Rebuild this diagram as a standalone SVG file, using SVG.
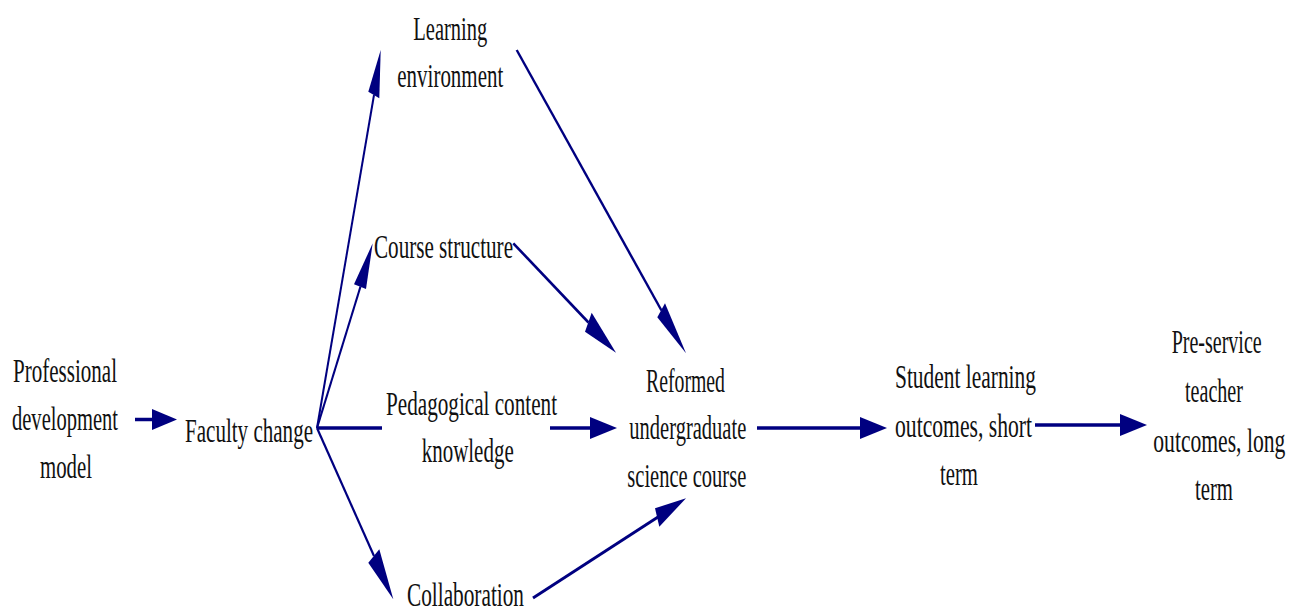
<svg xmlns="http://www.w3.org/2000/svg" width="1291" height="612" viewBox="0 0 1291 612">
<style>
  text { font-family: "Liberation Serif", "Times New Roman", serif; font-size: 33px; fill: #111; }
  .ln { stroke: #000080; fill: none; stroke-linecap: butt; }
  .hd { fill: #000080; stroke: none; }
</style>
<rect width="1291" height="612" fill="#ffffff"/>
<g id="connectors">
  <!-- PD -> Faculty change -->
  <line class="ln" x1="135" y1="419.5" x2="153" y2="419.5" stroke-width="3.5"/>
  <polygon class="hd" points="152,409 177,419.5 152,430"/>
  <!-- Faculty -> Learning environment -->
  <line class="ln" x1="317" y1="428" x2="374" y2="95" stroke-width="2"/>
  <polygon class="hd" points="380.7,50 368.3,91.7 379.3,98.3"/>
  <!-- Faculty -> Course structure -->
  <line class="ln" x1="317" y1="428" x2="360.5" y2="286.5" stroke-width="2.1"/>
  <polygon class="hd" points="372.7,243.3 354,284.3 366,289"/>
  <!-- Faculty -> Pedagogical content knowledge -->
  <line class="ln" x1="317" y1="428" x2="382" y2="428" stroke-width="3.5"/>
  <!-- Faculty -> Collaboration -->
  <line class="ln" x1="317" y1="428" x2="374" y2="556" stroke-width="2.2"/>
  <polygon class="hd" points="393.3,599.3 368.3,562.7 379.3,549.3"/>
  <!-- Learning environment -> Reformed -->
  <line class="ln" x1="516.7" y1="50" x2="661.5" y2="310.5" stroke-width="2.4"/>
  <polygon class="hd" points="686,353.3 657.3,317.3 665,303.3"/>
  <!-- Course structure -> Reformed -->
  <line class="ln" x1="513.3" y1="243.3" x2="588.5" y2="322.5" stroke-width="2.6"/>
  <polygon class="hd" points="616,352.7 585,331.7 591.7,312.7"/>
  <!-- Pedagogical -> Reformed -->
  <line class="ln" x1="550" y1="428" x2="591" y2="428" stroke-width="3.5"/>
  <polygon class="hd" points="590,417 617,428 590,439"/>
  <!-- Collaboration -> Reformed -->
  <line class="ln" x1="533" y1="598" x2="658" y2="517" stroke-width="2.9"/>
  <polygon class="hd" points="686,498.3 655,508.3 659.3,526.7"/>
  <!-- Reformed -> Student -->
  <line class="ln" x1="757" y1="428" x2="861" y2="428" stroke-width="3.5"/>
  <polygon class="hd" points="860,417 887,428 860,439"/>
  <!-- Student -> Pre-service -->
  <line class="ln" x1="1035" y1="425" x2="1121" y2="425" stroke-width="3.5"/>
  <polygon class="hd" points="1120,414 1147,425 1120,436"/>
</g>
<g id="node-professional-development">
  <text transform="translate(13 382) scale(0.64 1)" textLength="162.5" lengthAdjust="spacingAndGlyphs">Professional</text>
  <text transform="translate(12 430) scale(0.64 1)" textLength="165.6" lengthAdjust="spacingAndGlyphs">development</text>
  <text transform="translate(40 478) scale(0.64 1)" textLength="81.25" lengthAdjust="spacingAndGlyphs">model</text>
</g>
<g id="node-faculty-change">
  <text transform="translate(185 441.7) scale(0.64 1)" textLength="200" lengthAdjust="spacingAndGlyphs">Faculty change</text>
</g>
<g id="node-learning-environment">
  <text transform="translate(413.3 40) scale(0.64 1)" textLength="115.6" lengthAdjust="spacingAndGlyphs">Learning</text>
  <text transform="translate(397.3 87.3) scale(0.64 1)" textLength="165.6" lengthAdjust="spacingAndGlyphs">environment</text>
</g>
<g id="node-course-structure">
  <text transform="translate(374 258.3) scale(0.64 1)" textLength="217.2" lengthAdjust="spacingAndGlyphs">Course structure</text>
</g>
<g id="node-pedagogical-content-knowledge">
  <text transform="translate(386 415) scale(0.64 1)" textLength="267.2" lengthAdjust="spacingAndGlyphs">Pedagogical content</text>
  <text transform="translate(421.7 461.7) scale(0.64 1)" textLength="143.75" lengthAdjust="spacingAndGlyphs">knowledge</text>
</g>
<g id="node-collaboration">
  <text transform="translate(407 606) scale(0.64 1)" textLength="182.8" lengthAdjust="spacingAndGlyphs">Collaboration</text>
</g>
<g id="node-reformed-course">
  <text transform="translate(646 391.7) scale(0.64 1)" textLength="123.4" lengthAdjust="spacingAndGlyphs">Reformed</text>
  <text transform="translate(629.3 439) scale(0.64 1)" textLength="182.8" lengthAdjust="spacingAndGlyphs">undergraduate</text>
  <text transform="translate(627.3 486.7) scale(0.64 1)" textLength="185.9" lengthAdjust="spacingAndGlyphs">science course</text>
</g>
<g id="node-student-learning">
  <text transform="translate(895 388.3) scale(0.64 1)" textLength="220.3" lengthAdjust="spacingAndGlyphs">Student learning</text>
  <text transform="translate(895 436.7) scale(0.64 1)" textLength="214.1" lengthAdjust="spacingAndGlyphs">outcomes, short</text>
  <text transform="translate(940 485) scale(0.64 1)" textLength="59.4" lengthAdjust="spacingAndGlyphs">term</text>
</g>
<g id="node-preservice-teacher">
  <text transform="translate(1171.7 353.3) scale(0.64 1)" textLength="140.6" lengthAdjust="spacingAndGlyphs">Pre-service</text>
  <text transform="translate(1185 401.7) scale(0.64 1)" textLength="90.6" lengthAdjust="spacingAndGlyphs">teacher</text>
  <text transform="translate(1153.3 451.7) scale(0.64 1)" textLength="206.25" lengthAdjust="spacingAndGlyphs">outcomes, long</text>
  <text transform="translate(1195 500) scale(0.64 1)" textLength="59.4" lengthAdjust="spacingAndGlyphs">term</text>
</g>
</svg>
